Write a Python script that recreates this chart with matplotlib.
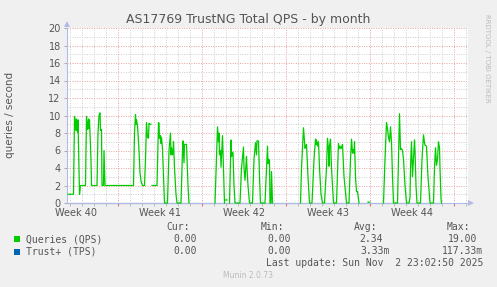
import matplotlib
matplotlib.use("Agg")
import matplotlib.pyplot as plt
from matplotlib.ticker import MultipleLocator, FixedLocator, FormatStrFormatter

nan = float("nan")

W, H = 497, 287

# hours since the left edge of the graph (1 px = 2 h), values in queries/second
qps_hours = [
    # week 40
    2, 13, 15, 17, 18, 19, 21, 22, 24, 25, 27, 37, 39, 41, 42, 43, 44, 45, 48, 49,
    60, 62, 64, 66, 67, 69, 70, 73, 74, 76, 133,
    # week 41
    135, 137, 138, 139, 141, 142, 144, 146, 148, 151, 155, 157, 159, 161, 163, 164,
    166, 168, 169, 170, 180, 183, 184, 185, 187, 188, 189, 191, 193, 195, 201, 204,
    207, 208, 209, 211, 212, 213, 215, 218, 220, 228, 231, 232, 234, 235, 239, 242,
    244, 246,
    # week 42
    296, 299, 301, 303, 304, 305, 307, 308, 311, 313, 315, 316, 317, 320, 321, 325,
    327, 328, 329, 331, 332, 334, 336, 346, 349, 353, 354, 356, 359, 360, 362, 365,
    371, 374, 377, 379, 380, 383, 385, 387, 396, 399, 401, 402, 403, 405, 406, 408,
    409, 411, 412,
    # week 43
    467, 469, 473, 475, 476, 478, 479, 482, 485, 490, 494, 497, 498, 499, 501, 503,
    505, 508, 511, 515, 519, 521, 523, 524, 525, 527, 529, 533, 539, 543, 544, 546,
    548, 551, 554, 559, 564, 567, 569, 571, 572, 574, 575, 577, 579, 581, 584, 585,
    602, 606, 607,
    # week 44
    633, 636, 639, 641, 643, 645, 647, 649, 651, 653, 661, 663, 665, 667, 669, 671,
    673, 676, 679, 684, 686, 687, 689, 691, 693, 695, 696, 698, 700, 707, 710, 713,
    715, 716, 719, 722, 726, 733, 735, 737, 739, 741, 743, 745, 746, 748, 749,
]
qps_values = [
    1, 1, 9.9, 9.2, 8.3, 9.6, 8.1, 9.5, 4, 1, 2, 2, 9.9, 8.4, 9, 9.6, 8.5, 9.5, 5, 2,
    2, 8, 10, 10.3, 8.3, 8.4, 2, 2, 6, 2, 2,
    8, 10.1, 9, 9.5, 8.8, 8, 6, 3.5, 2.5, 2, 2, 5, 9.2, 7.5, 7.4, 9.1,
    9.0, 9.0, nan, 2, 2, 9.2, 9.1, 7.4, 7.7, 6.8, 7.5, 6.2, 3, 0, 0, 6,
    8.0, 5.5, 6.3, 5.5, 6, 7, 4, 1, 0, 0, 6, 7.1, 4.6, 6.7, 6.7, 2,
    0, nan,
    0, 5, 8.7, 7, 8, 5.5, 6, 4.1, 7.7, 4, 0, nan, 0.35, 0.35, nan, 0,
    5, 7.2, 5.3, 5.8, 5.7, 2, 0, 0, 4, 6.4, 4, 2.6, 5.3, 4, 2, 0,
    0, 5, 6.9, 5.5, 7.1, 7.1, 3, 0, 0, 4, 6.5, 4.5, 5, 4.9, 0, 0,
    3.6, 0, nan,
    0, 4, 8.6, 7, 6.25, 6.5, 6.7, 3, 0, 0, 5, 7.3, 6.7, 7.2, 6.5, 7.0,
    4, 1, 0, 0, 4, 7.4, 6, 4.2, 6.5, 7.3, 4, 0, 0, 6.8, 6.2, 6.5,
    6.2, 6.7, 3, 0, 0, 5, 7.3, 5.7, 6.1, 5.7, 7, 3, 1.3, 1.3, 0, nan,
    0.1, 0.1, nan,
    0, 5, 9.2, 8.5, 7.5, 7.0, 8.7, 7, 3, 0, 0, 5, 10.2, 6.1, 6.2, 6,
    5, 2, 0, 0, 0.6, 4, 7.0, 3.0, 5, 7.2, 6, 2, 0, 0, 5, 7.8,
    6.9, 6.6, 6.5, 3, 0, 0, 4, 6.3, 4.3, 5, 7.0, 6.3, 4, 0.5, 0,
]
tps_hours = [2, 749]
tps_values = [0, 0]

week_labels = ["Week 40", "Week 41", "Week 42", "Week 43", "Week 44"]
week_label_hours = [18, 186, 354, 522, 690]
week_start_hours = [102, 270, 438, 606, 774]

legend_rows = [
    ("Queries (QPS)", "#00cc00", ["0.00", "0.00", "2.34", "19.00"]),
    ("Trust+ (TPS)", "#0066b3", ["0.00", "0.00", "3.33m", "117.33m"]),
]

BG = "#f0f0f0"
AXIS = "#b4bae8"
TXT = "#555555"


def px(x, y):
    return x / W, 1 - y / H


fig = plt.figure(figsize=(W / 100, H / 100), dpi=100, facecolor=BG)
left, top, right, bottom = 67, 28, 468, 203
ax = fig.add_axes([left / W, 1 - bottom / H, (right - left) / W, (bottom - top) / H])
ax.set_facecolor("white")

ax.set_xlim(0, 802)
ax.set_ylim(0, 20)

# grid
ax.xaxis.set_major_locator(FixedLocator(week_start_hours))
ax.xaxis.set_minor_locator(FixedLocator([h for h in range(6, 802, 24) if h not in week_start_hours]))
ax.yaxis.set_major_locator(MultipleLocator(2))
ax.yaxis.set_minor_locator(MultipleLocator(1))
ax.yaxis.set_major_formatter(FormatStrFormatter("%d"))
ax.grid(which="minor", color="#cccccc", lw=0.7, ls=(0, (1, 1.5)))
ax.grid(which="major", color="#e8a0a0", lw=0.7, ls=(0, (1, 1.5)))
ax.set_axisbelow(True)

ax.tick_params(axis="x", which="major", length=2.5, width=0.7, color="#e06060",
               labelbottom=False)
ax.tick_params(axis="x", which="minor", length=2.5, width=0.7, color="#bbbbbb")
ax.tick_params(axis="y", which="major", length=2.5, width=0.7, color="#aaaaaa",
               labelsize=7, labelcolor=TXT, pad=2)
ax.tick_params(axis="y", which="minor", length=0)

for h, lab in zip(week_label_hours, week_labels):
    ax.annotate(lab, (h, 0), xycoords=("data", "axes fraction"), xytext=(0, -10),
                textcoords="offset pixels", ha="center", va="center", fontsize=7,
                color=TXT, annotation_clip=False)

for s in ["top", "right"]:
    ax.spines[s].set_visible(False)
for s in ["left", "bottom"]:
    ax.spines[s].set_color(AXIS)
    ax.spines[s].set_linewidth(0.8)
    ax.spines[s].set_zorder(1)

# arrows at axis ends
fig.patches.append(plt.Polygon([px(64, 27), px(70, 27), px(67, 21)], closed=True,
                               transform=fig.transFigure, color=AXIS, lw=0))
fig.patches.append(plt.Polygon([px(468, 200), px(468, 206), px(474, 203)], closed=True,
                               transform=fig.transFigure, color=AXIS, lw=0))

ax.plot(tps_hours, tps_values, color="#0066b3", lw=0.8, zorder=0.5, clip_on=False)
ax.plot(qps_hours, qps_values, color="#00cc00", lw=0.9, zorder=3, clip_on=False)

# texts
fig.text(*px(248, 20), "AS17769 TrustNG Total QPS - by month", ha="center", va="center",
         fontsize=9, color=TXT)
fig.text(*px(10, 115), "queries / second", rotation=90, ha="center", va="center",
         fontsize=7.5, color=TXT)
fig.text(*px(487, 58), "RRDTOOL / TOBI OETIKER", rotation=270, ha="center", va="center",
         fontsize=5, color="#bbbbbb")

mono = dict(family="DejaVu Sans Mono", fontsize=7, color=TXT, va="center")
for x, lab in zip([190, 284, 377, 470], ["Cur:", "Min:", "Avg:", "Max:"]):
    fig.text(*px(x, 227), lab, ha="right", **mono)

value_ends = [[197, 291, 383, 477], [197, 291, 390, 483]]
for i, (name, col, vals) in enumerate(legend_rows):
    y = 239 + i * 12.5
    fig.patches.append(plt.Rectangle(px(14, y + 3), 6 / W, 6 / H, transform=fig.transFigure,
                                     color=col, lw=0))
    fig.text(*px(26, y), name, ha="left", **mono)
    for x, v in zip(value_ends[i], vals):
        fig.text(*px(x, y), v, ha="right", **mono)

fig.text(*px(483, 263), "Last update: Sun Nov  2 23:02:50 2025", ha="right", **mono)
fig.text(*px(248, 276), "Munin 2.0.73", ha="center", va="center", fontsize=5.5,
         color="#bbbbbb")

fig.savefig("out.png", dpi=100, facecolor=BG)
